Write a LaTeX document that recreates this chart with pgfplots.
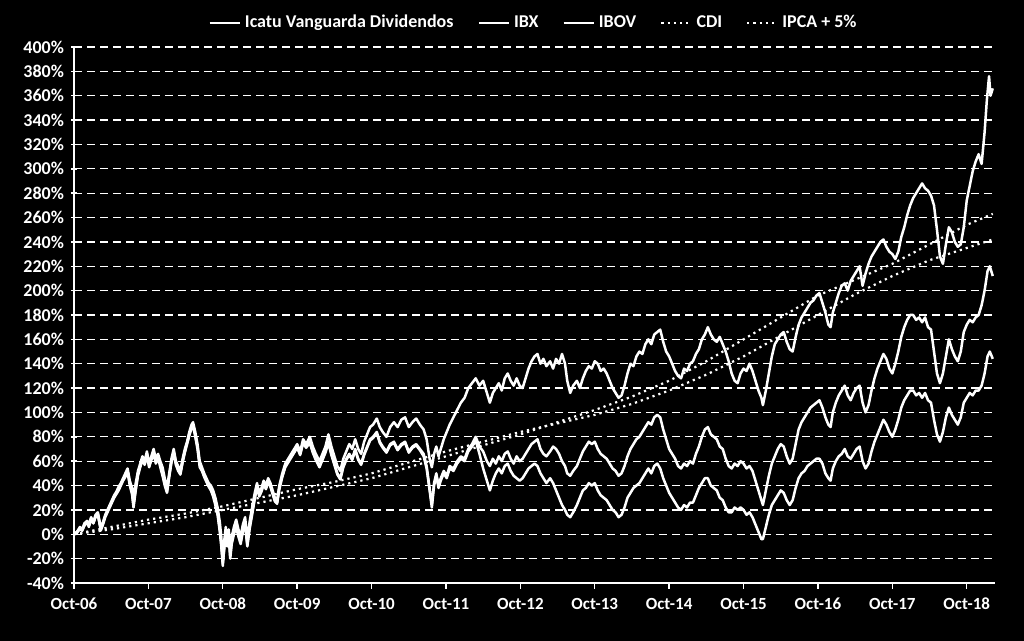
\documentclass[border=0pt]{standalone}
\usepackage{fontspec}
\setmainfont{Carlito}
\usepackage{pgfplots}
\pgfplotsset{compat=1.18}
\begin{document}
\begin{tikzpicture}
\fill[black] (-37pt,-29pt) rectangle (475pt,291.5pt);
\begin{axis}[
  at={(0,0)}, anchor=south west,
  scale only axis, width=460.5pt, height=268pt,
  xmin=0, xmax=12.38, ymin=-40, ymax=400,
  axis x line=bottom, axis y line=left,
  axis line style={white, line width=0.8pt, -},
  xtick={0,1,...,12},
  xticklabels={Oct-06,Oct-07,Oct-08,Oct-09,Oct-10,Oct-11,Oct-12,Oct-13,Oct-14,Oct-15,Oct-16,Oct-17,Oct-18},
  ytick={-40,-20,...,400},
  yticklabels={-40\%,-20\%,0\%,20\%,40\%,60\%,80\%,100\%,120\%,140\%,160\%,180\%,200\%,220\%,240\%,260\%,280\%,300\%,320\%,340\%,360\%,380\%,400\%},
  x tick label style={font=\bfseries\fontsize{8.5}{10}\selectfont, text=white, yshift=-1pt},
  y tick label style={font=\bfseries\fontsize{9}{10}\selectfont, text=white},
  major tick length=3pt,
  xtick align=outside, ytick align=center,
  tick style={white, line width=0.7pt},
  ymajorgrids,
  major grid style={white, line width=0.6pt, dash pattern=on 4pt off 2.5pt},
  legend style={at={(0.5,1)}, anchor=south, yshift=4pt, draw=none, fill=none, text=white,
    font=\bfseries\fontsize{9}{10}\selectfont, legend columns=-1,
    /tikz/every even column/.append style={column sep=10pt}},
  legend image code/.code={\draw[#1] (0pt,0pt) -- (15pt,0pt);},
]
\addplot[white, line width=1.25pt, line join=round] coordinates {
(0,0) (0.04,2) (0.08,6) (0.11,4) (0.14,9) (0.175,11) (0.2,8) (0.23,14) (0.26,10) (0.29,16) (0.32,18) (0.34,12) (0.36,5) (0.39,10) (0.42,16) (0.45,20) (0.48,24) (0.51,28) (0.54,32) (0.57,35) (0.6,39) (0.63,42) (0.66,46) (0.69,50) (0.72,54) (0.75,44) (0.78,38) (0.80,30) (0.83,42) (0.86,52) (0.89,58) (0.92,64) (0.95,60) (0.98,68) (1.01,58) (1.04,64) (1.07,70) (1.1,62) (1.13,66) (1.16,60) (1.19,55) (1.22,46) (1.25,38) (1.28,50) (1.31,62) (1.34,70) (1.37,60) (1.4,56) (1.43,52) (1.46,62) (1.49,70) (1.52,76) (1.55,84) (1.58,90) (1.6,92) (1.63,84) (1.66,74) (1.69,60) (1.72,55) (1.75,50) (1.78,46) (1.81,42) (1.84,40) (1.87,36) (1.9,30) (1.93,22) (1.96,10) (1.98,-2) (2.0,-22) (2.02,-5) (2.04,6) (2.06,-4) (2.08,4) (2.1,-12) (2.12,-2) (2.15,6) (2.18,12) (2.21,4) (2.24,-2) (2.27,8) (2.3,14) (2.33,-5) (2.36,10) (2.4,24) (2.43,34) (2.46,42) (2.49,34) (2.52,38) (2.55,44) (2.58,40) (2.61,46) (2.64,42) (2.67,36) (2.7,30) (2.73,28) (2.76,40) (2.8,50) (2.84,58) (2.88,62) (2.92,66) (2.96,70) (3.0,74) (3.04,68) (3.08,78) (3.12,74) (3.17,80) (3.21,72) (3.25,66) (3.3,60) (3.34,66) (3.38,72) (3.42,82) (3.46,72) (3.5,64) (3.54,56) (3.58,52) (3.62,62) (3.66,68) (3.7,74) (3.74,70) (3.78,78) (3.82,70) (3.86,66) (3.9,76) (3.94,82) (3.98,88) (4.02,90) (4.07,95) (4.11,88) (4.15,84) (4.2,80) (4.25,88) (4.3,92) (4.35,88) (4.4,94) (4.45,96) (4.5,88) (4.55,92) (4.6,95) (4.65,90) (4.7,86) (4.74,78) (4.78,62) (4.81,55) (4.84,66) (4.87,72) (4.9,64) (4.93,70) (4.97,78) (5.01,84) (5.05,90) (5.1,96) (5.15,102) (5.2,108) (5.25,112) (5.3,120) (5.35,124) (5.4,128) (5.45,122) (5.5,126) (5.55,116) (5.59,108) (5.63,116) (5.67,120) (5.71,124) (5.75,118) (5.79,128) (5.83,132) (5.87,126) (5.91,122) (5.95,128) (5.99,122) (6.03,120) (6.07,128) (6.11,136) (6.15,142) (6.19,146) (6.23,148) (6.27,140) (6.31,144) (6.35,138) (6.4,142) (6.44,136) (6.48,144) (6.52,140) (6.56,148) (6.6,140) (6.63,126) (6.67,116) (6.71,122) (6.76,126) (6.8,120) (6.84,128) (6.88,134) (6.92,138) (6.96,136) (7.0,142) (7.04,140) (7.08,134) (7.12,136) (7.16,132) (7.2,126) (7.24,120) (7.28,116) (7.32,112) (7.36,114) (7.4,122) (7.44,132) (7.48,140) (7.52,138) (7.56,146) (7.6,150) (7.64,148) (7.68,156) (7.72,160) (7.76,156) (7.8,164) (7.84,166) (7.88,168) (7.92,158) (7.96,150) (8.0,146) (8.04,140) (8.08,134) (8.12,130) (8.16,128) (8.2,136) (8.24,134) (8.28,140) (8.32,142) (8.36,148) (8.4,152) (8.44,160) (8.48,164) (8.52,170) (8.56,164) (8.6,160) (8.64,158) (8.68,162) (8.72,156) (8.76,150) (8.8,142) (8.84,132) (8.88,126) (8.92,124) (8.96,132) (9.0,136) (9.04,134) (9.08,140) (9.12,134) (9.16,126) (9.2,118) (9.24,112) (9.26,106) (9.3,118) (9.34,132) (9.38,146) (9.42,156) (9.46,160) (9.5,164) (9.54,166) (9.58,158) (9.62,152) (9.66,150) (9.7,162) (9.74,172) (9.78,178) (9.82,182) (9.86,186) (9.9,190) (9.94,192) (9.98,196) (10.02,198) (10.06,190) (10.1,182) (10.14,172) (10.17,170) (10.2,182) (10.24,190) (10.28,198) (10.32,204) (10.36,206) (10.4,200) (10.44,208) (10.48,212) (10.52,216) (10.56,220) (10.6,204) (10.64,214) (10.68,222) (10.72,228) (10.76,232) (10.8,236) (10.84,240) (10.88,242) (10.92,236) (10.96,232) (11.0,230) (11.04,226) (11.08,232) (11.12,244) (11.16,252) (11.2,262) (11.24,270) (11.28,276) (11.32,280) (11.36,284) (11.4,288) (11.44,284) (11.48,282) (11.52,278) (11.56,270) (11.6,250) (11.64,228) (11.68,222) (11.72,238) (11.76,252) (11.8,248) (11.84,240) (11.88,236) (11.92,238) (11.96,252) (12.0,274) (12.04,286) (12.08,298) (12.12,306) (12.16,312) (12.2,304) (12.24,330) (12.27,356) (12.3,376) (12.32,360) (12.35,366)
};
\addlegendentry{Icatu Vanguarda Dividendos}
\addplot[white, line width=1.25pt, line join=round] coordinates {
(0,0) (0.04,1) (0.08,5) (0.11,3) (0.14,8) (0.175,10) (0.2,7) (0.23,13) (0.26,9) (0.29,15) (0.32,17) (0.34,10) (0.36,4) (0.39,9) (0.42,15) (0.45,19) (0.48,23) (0.51,27) (0.54,31) (0.57,34) (0.6,37) (0.63,41) (0.66,45) (0.69,48) (0.72,52) (0.75,42) (0.78,34) (0.80,24) (0.83,38) (0.86,50) (0.89,56) (0.92,62) (0.95,58) (0.98,66) (1.01,56) (1.04,62) (1.07,68) (1.1,60) (1.13,64) (1.16,57) (1.19,50) (1.22,42) (1.25,35) (1.28,48) (1.31,60) (1.34,68) (1.37,58) (1.4,54) (1.43,50) (1.46,60) (1.49,68) (1.52,75) (1.55,82) (1.58,88) (1.6,90) (1.63,82) (1.66,72) (1.69,57) (1.72,53) (1.75,48) (1.78,44) (1.81,40) (1.84,38) (1.87,33) (1.9,26) (1.93,18) (1.96,4) (1.98,-8) (2.0,-26) (2.02,-10) (2.04,2) (2.06,-8) (2.08,0) (2.1,-18) (2.12,-6) (2.15,2) (2.18,8) (2.21,0) (2.24,-6) (2.27,4) (2.3,10) (2.33,-9) (2.36,6) (2.4,20) (2.43,30) (2.46,40) (2.49,32) (2.52,36) (2.55,42) (2.58,38) (2.61,44) (2.64,40) (2.67,34) (2.7,28) (2.73,26) (2.76,38) (2.8,48) (2.84,56) (2.88,60) (2.92,64) (2.96,68) (3.0,72) (3.04,66) (3.08,76) (3.12,72) (3.17,76) (3.21,68) (3.25,62) (3.3,56) (3.34,62) (3.38,68) (3.42,76) (3.46,66) (3.5,58) (3.54,50) (3.58,46) (3.62,56) (3.66,62) (3.7,66) (3.74,62) (3.78,70) (3.82,62) (3.86,58) (3.9,66) (3.94,72) (3.98,78) (4.02,80) (4.07,84) (4.11,76) (4.15,72) (4.2,68) (4.25,74) (4.3,76) (4.35,70) (4.4,74) (4.45,76) (4.5,68) (4.55,72) (4.6,74) (4.65,70) (4.7,66) (4.74,56) (4.78,38) (4.81,24) (4.84,42) (4.87,50) (4.9,40) (4.93,46) (4.97,52) (5.01,48) (5.05,56) (5.1,54) (5.15,60) (5.2,64) (5.25,62) (5.3,70) (5.35,74) (5.4,80) (5.45,72) (5.5,68) (5.55,60) (5.59,56) (5.63,62) (5.67,58) (5.71,64) (5.75,60) (5.79,66) (5.83,68) (5.87,62) (5.91,58) (5.95,64) (5.99,60) (6.03,62) (6.07,66) (6.11,70) (6.15,74) (6.19,76) (6.23,78) (6.27,70) (6.31,66) (6.35,64) (6.4,68) (6.44,72) (6.48,70) (6.52,66) (6.56,60) (6.6,56) (6.63,50) (6.67,48) (6.71,52) (6.76,56) (6.8,62) (6.84,68) (6.88,72) (6.92,76) (6.96,74) (7.0,76) (7.04,70) (7.08,66) (7.12,64) (7.16,62) (7.2,58) (7.24,54) (7.28,52) (7.32,48) (7.36,50) (7.4,56) (7.44,64) (7.48,70) (7.52,74) (7.56,78) (7.6,80) (7.64,84) (7.68,88) (7.72,92) (7.76,90) (7.8,96) (7.84,98) (7.88,96) (7.92,86) (7.96,78) (8.0,70) (8.04,66) (8.08,62) (8.12,56) (8.16,54) (8.2,58) (8.24,56) (8.28,60) (8.32,58) (8.36,66) (8.4,72) (8.44,80) (8.48,86) (8.52,88) (8.56,82) (8.6,80) (8.64,78) (8.68,72) (8.72,70) (8.76,62) (8.8,56) (8.84,54) (8.88,58) (8.92,56) (8.96,60) (9.0,58) (9.04,54) (9.08,56) (9.12,52) (9.16,44) (9.2,36) (9.24,28) (9.26,24) (9.3,36) (9.34,48) (9.38,58) (9.42,64) (9.46,70) (9.5,74) (9.54,72) (9.58,64) (9.62,58) (9.66,62) (9.7,74) (9.74,86) (9.78,92) (9.82,96) (9.86,100) (9.9,104) (9.94,106) (9.98,108) (10.02,110) (10.06,104) (10.1,96) (10.14,90) (10.17,88) (10.2,100) (10.24,108) (10.28,114) (10.32,118) (10.36,122) (10.4,114) (10.44,110) (10.48,116) (10.52,120) (10.56,122) (10.6,108) (10.64,100) (10.68,106) (10.72,118) (10.76,128) (10.8,136) (10.84,142) (10.88,148) (10.92,144) (10.96,136) (11.0,132) (11.04,140) (11.08,150) (11.12,162) (11.16,170) (11.2,176) (11.24,180) (11.28,180) (11.32,176) (11.36,178) (11.4,174) (11.44,178) (11.48,170) (11.52,168) (11.56,150) (11.6,132) (11.64,124) (11.68,132) (11.72,146) (11.76,160) (11.8,152) (11.84,146) (11.88,142) (11.92,150) (11.96,166) (12.0,172) (12.04,176) (12.08,174) (12.12,178) (12.16,180) (12.2,188) (12.24,200) (12.28,216) (12.31,220) (12.35,212)
};
\addlegendentry{IBX}
\addplot[white, line width=1.25pt, line join=round] coordinates {
(0,0) (0.04,2) (0.08,4) (0.11,3) (0.14,7) (0.175,10) (0.2,6) (0.23,12) (0.26,9) (0.29,14) (0.32,16) (0.34,10) (0.36,3) (0.39,8) (0.42,14) (0.45,18) (0.48,22) (0.51,26) (0.54,30) (0.57,33) (0.6,36) (0.63,40) (0.66,44) (0.69,47) (0.72,51) (0.75,40) (0.78,33) (0.80,22) (0.83,36) (0.86,48) (0.89,55) (0.92,61) (0.95,57) (0.98,65) (1.01,55) (1.04,61) (1.07,66) (1.1,58) (1.13,63) (1.16,55) (1.19,48) (1.22,40) (1.25,34) (1.28,47) (1.31,59) (1.34,67) (1.37,57) (1.4,52) (1.43,49) (1.46,59) (1.49,67) (1.52,74) (1.55,81) (1.58,87) (1.6,89) (1.63,80) (1.66,70) (1.69,55) (1.72,52) (1.75,47) (1.78,43) (1.81,39) (1.84,36) (1.87,31) (1.9,24) (1.93,16) (1.96,2) (1.98,-10) (2.0,-24) (2.02,-12) (2.04,0) (2.06,-10) (2.08,-2) (2.1,-20) (2.12,-8) (2.15,0) (2.18,6) (2.21,-2) (2.24,-8) (2.27,2) (2.3,8) (2.33,-10) (2.36,4) (2.4,18) (2.43,29) (2.46,39) (2.49,31) (2.52,35) (2.55,41) (2.58,37) (2.61,43) (2.64,39) (2.67,33) (2.7,27) (2.73,25) (2.76,37) (2.8,47) (2.84,55) (2.88,59) (2.92,63) (2.96,67) (3.0,71) (3.04,65) (3.08,75) (3.12,71) (3.17,75) (3.21,67) (3.25,61) (3.3,55) (3.34,61) (3.38,67) (3.42,75) (3.46,65) (3.5,57) (3.54,49) (3.58,45) (3.62,55) (3.66,61) (3.7,65) (3.74,61) (3.78,69) (3.82,61) (3.86,57) (3.9,65) (3.94,71) (3.98,77) (4.02,79) (4.07,83) (4.11,75) (4.15,71) (4.2,67) (4.25,73) (4.3,75) (4.35,69) (4.4,73) (4.45,75) (4.5,67) (4.55,71) (4.6,73) (4.65,69) (4.7,64) (4.74,54) (4.78,36) (4.81,22) (4.84,40) (4.87,48) (4.9,38) (4.93,44) (4.97,50) (5.01,46) (5.05,54) (5.1,52) (5.15,58) (5.2,62) (5.25,60) (5.3,68) (5.35,72) (5.4,77) (5.45,66) (5.5,54) (5.55,44) (5.59,36) (5.63,44) (5.67,50) (5.71,54) (5.75,50) (5.79,56) (5.83,58) (5.87,52) (5.91,48) (5.95,46) (5.99,44) (6.03,46) (6.07,50) (6.11,54) (6.15,56) (6.19,58) (6.23,56) (6.27,50) (6.31,46) (6.35,42) (6.4,46) (6.44,42) (6.48,36) (6.52,30) (6.56,24) (6.6,20) (6.63,16) (6.67,14) (6.71,18) (6.76,24) (6.8,30) (6.84,36) (6.88,38) (6.92,42) (6.96,40) (7.0,42) (7.04,36) (7.08,32) (7.12,30) (7.16,28) (7.2,24) (7.24,20) (7.28,18) (7.32,14) (7.36,16) (7.4,22) (7.44,30) (7.48,34) (7.52,38) (7.56,40) (7.6,42) (7.64,46) (7.68,50) (7.72,54) (7.76,50) (7.8,56) (7.84,58) (7.88,54) (7.92,46) (7.96,40) (8.0,34) (8.04,30) (8.08,26) (8.12,22) (8.16,20) (8.2,24) (8.24,22) (8.28,26) (8.32,26) (8.36,32) (8.4,38) (8.44,42) (8.48,46) (8.52,46) (8.56,40) (8.6,38) (8.64,36) (8.68,30) (8.72,28) (8.76,22) (8.8,18) (8.84,18) (8.88,22) (8.92,20) (8.96,22) (9.0,20) (9.04,16) (9.08,18) (9.12,14) (9.16,8) (9.2,2) (9.24,-4) (9.26,-4) (9.3,6) (9.34,16) (9.38,24) (9.42,28) (9.46,32) (9.5,36) (9.54,34) (9.58,28) (9.62,24) (9.66,28) (9.7,38) (9.74,46) (9.78,50) (9.82,52) (9.86,56) (9.9,58) (9.94,60) (9.98,62) (10.02,62) (10.06,58) (10.1,50) (10.14,46) (10.17,44) (10.2,54) (10.24,60) (10.28,64) (10.32,66) (10.36,70) (10.4,64) (10.44,62) (10.48,66) (10.52,70) (10.56,72) (10.6,60) (10.64,54) (10.68,58) (10.72,68) (10.76,76) (10.8,82) (10.84,88) (10.88,94) (10.92,90) (10.96,84) (11.0,80) (11.04,86) (11.08,94) (11.12,104) (11.16,110) (11.2,114) (11.24,118) (11.28,118) (11.32,114) (11.36,116) (11.4,112) (11.44,116) (11.48,110) (11.52,108) (11.56,94) (11.6,82) (11.64,76) (11.68,84) (11.72,96) (11.76,104) (11.8,98) (11.84,94) (11.88,90) (11.92,96) (11.96,108) (12.0,112) (12.04,116) (12.08,114) (12.12,118) (12.16,118) (12.2,122) (12.24,132) (12.28,146) (12.31,150) (12.35,144)
};
\addlegendentry{IBOV}
\addplot[white, line width=1.1pt, dotted] coordinates {
(0,0) (0.5,6) (1,12) (1.5,17) (2,23) (2.5,30) (3,37) (3.5,43) (4,50) (4.5,59) (5,68) (5.5,76) (6,84) (6.5,91) (7,98) (7.5,107) (8,118) (8.5,131) (9,146) (9.5,163) (10,180) (10.5,197) (11,212) (11.5,225) (12,235) (12.35,242)
};
\addlegendentry{CDI}
\addplot[white, line width=1.1pt, dotted] coordinates {
(0,0) (0.5,4) (1,9) (1.5,14) (2,20) (2.5,26) (3,32) (3.5,39) (4,46) (4.5,55) (5,64) (5.5,73) (6,82) (6.5,92) (7,102) (7.5,113) (8,126) (8.5,142) (9,160) (9.5,178) (10,196) (10.5,209) (11,222) (11.5,238) (12,254) (12.35,263)
};
\addlegendentry{IPCA + 5\%}
\end{axis}
\end{tikzpicture}
\end{document}
